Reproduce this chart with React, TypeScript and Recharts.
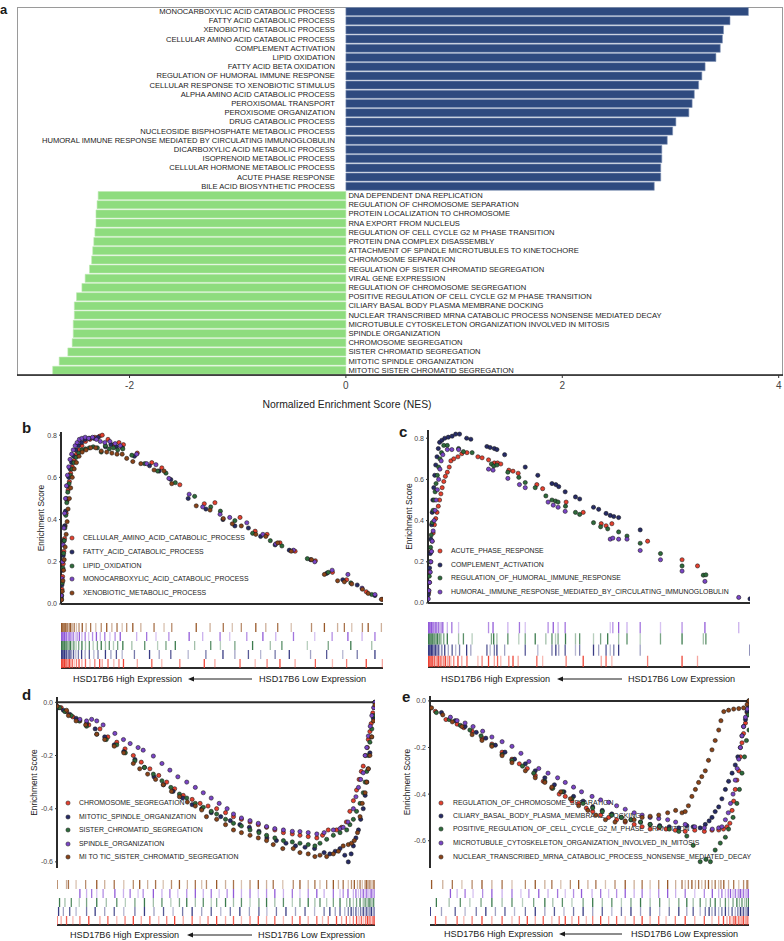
import React from "react";
import { BarChart, Bar, XAxis, YAxis, Cell, LabelList, ScatterChart, Scatter, ReferenceLine } from "recharts";

const FONT = '"Liberation Sans", Arial, Helvetica, sans-serif';

// ---- panel a data ----
const upTerms = [
  "MONOCARBOXYLIC ACID CATABOLIC PROCESS",
  "FATTY ACID CATABOLIC PROCESS",
  "XENOBIOTIC METABOLIC PROCESS",
  "CELLULAR AMINO ACID CATABOLIC PROCESS",
  "COMPLEMENT ACTIVATION",
  "LIPID OXIDATION",
  "FATTY ACID BETA OXIDATION",
  "REGULATION OF HUMORAL IMMUNE RESPONSE",
  "CELLULAR RESPONSE TO XENOBIOTIC STIMULUS",
  "ALPHA AMINO ACID CATABOLIC PROCESS",
  "PEROXISOMAL TRANSPORT",
  "PEROXISOME ORGANIZATION",
  "DRUG CATABOLIC PROCESS",
  "NUCLEOSIDE BISPHOSPHATE METABOLIC PROCESS",
  "HUMORAL IMMUNE RESPONSE MEDIATED BY CIRCULATING IMMUNOGLOBULIN",
  "DICARBOXYLIC ACID METABOLIC PROCESS",
  "ISOPRENOID METABOLIC PROCESS",
  "CELLULAR HORMONE METABOLIC PROCESS",
  "ACUTE PHASE RESPONSE",
  "BILE ACID BIOSYNTHETIC PROCESS",
];
const upNes = [3.72, 3.55, 3.49, 3.48, 3.46, 3.42, 3.32, 3.29, 3.26, 3.22, 3.2, 3.17, 3.05, 3.02, 2.97, 2.92, 2.92, 2.91, 2.91, 2.85];
const downTerms = [
  "DNA DEPENDENT DNA REPLICATION",
  "REGULATION OF CHROMOSOME SEPARATION",
  "PROTEIN LOCALIZATION TO CHROMOSOME",
  "RNA EXPORT FROM NUCLEUS",
  "REGULATION OF CELL CYCLE G2 M PHASE TRANSITION",
  "PROTEIN DNA COMPLEX DISASSEMBLY",
  "ATTACHMENT OF SPINDLE MICROTUBULES TO KINETOCHORE",
  "CHROMOSOME SEPARATION",
  "REGULATION OF SISTER CHROMATID SEGREGATION",
  "VIRAL GENE EXPRESSION",
  "REGULATION OF CHROMOSOME SEGREGATION",
  "POSITIVE REGULATION OF CELL CYCLE G2 M PHASE TRANSITION",
  "CILIARY BASAL BODY PLASMA MEMBRANE DOCKING",
  "NUCLEAR TRANSCRIBED MRNA CATABOLIC PROCESS NONSENSE MEDIATED DECAY",
  "MICROTUBULE CYTOSKELETON ORGANIZATION INVOLVED IN MITOSIS",
  "SPINDLE ORGANIZATION",
  "CHROMOSOME SEGREGATION",
  "SISTER CHROMATID SEGREGATION",
  "MITOTIC SPINDLE ORGANIZATION",
  "MITOTIC SISTER CHROMATID SEGREGATION",
];
const downNes = [-2.29, -2.3, -2.31, -2.31, -2.32, -2.33, -2.34, -2.35, -2.37, -2.41, -2.44, -2.49, -2.51, -2.51, -2.52, -2.52, -2.53, -2.57, -2.65, -2.71];
const nesTicks = [-2, 0, 2, 4];

// ---- GSEA panels: [rank %, enrichment score] at each hit ----
const bNames = [
  "CELLULAR_AMINO_ACID_CATABOLIC_PROCESS",
  "FATTY_ACID_CATABOLIC_PROCESS",
  "LIPID_OXIDATION",
  "MONOCARBOXYLIC_ACID_CATABOLIC_PROCESS",
  "XENOBIOTIC_METABOLIC_PROCESS",
];
const bRed = [[0.1,0.02],[0.3,0.07],[0.5,0.13],[0.7,0.19],[0.9,0.25],[1.1,0.31],[1.3,0.37],[1.6,0.43],[1.9,0.49],[2.2,0.54],[2.6,0.58],[3.0,0.62],[3.5,0.65],[4.1,0.68],[4.8,0.71],[5.6,0.73],[6.5,0.75],[7.6,0.77],[9.0,0.78],[10.5,0.79],[12.0,0.795],[12.8,0.8],[14.6,0.78],[16.4,0.755],[18,0.765],[19.4,0.755],[23.7,0.715],[28.2,0.67],[31.3,0.645],[36.9,0.565],[44.5,0.475],[47.8,0.48],[55.6,0.41],[60.3,0.345],[64,0.33],[68,0.29],[72.7,0.25],[79,0.205],[84.3,0.15],[88.7,0.115],[94.8,0.058],[99.8,0.022]];
const bNavy = [[0.1,0.03],[0.3,0.09],[0.5,0.16],[0.7,0.23],[0.9,0.3],[1.1,0.37],[1.4,0.44],[1.7,0.5],[2.0,0.56],[2.4,0.6],[2.8,0.64],[3.3,0.67],[3.9,0.7],[4.6,0.73],[5.4,0.75],[6.4,0.765],[7.5,0.78],[8.8,0.785],[10.2,0.785],[11.5,0.79],[13.8,0.745],[15.5,0.755],[17.2,0.745],[19,0.74],[22.8,0.7],[27.5,0.655],[30.5,0.63],[34.1,0.59],[39.5,0.5],[45,0.45],[50.3,0.4],[54,0.37],[58.2,0.36],[62,0.32],[66.5,0.28],[70.9,0.255],[77.5,0.21],[82.5,0.145],[87.5,0.115],[92,0.09],[97.5,0.04]];
const bGreen = [[0.2,0.04],[0.4,0.1],[0.6,0.17],[0.8,0.24],[1.0,0.3],[1.2,0.36],[1.5,0.42],[1.8,0.48],[2.1,0.53],[2.5,0.57],[2.9,0.61],[3.4,0.64],[4.0,0.67],[4.7,0.695],[5.5,0.715],[6.5,0.73],[7.6,0.735],[8.8,0.74],[10,0.745],[11.3,0.74],[12.5,0.72],[13.8,0.75],[15,0.735],[16.3,0.74],[17.6,0.73],[19.2,0.735],[22,0.705],[26,0.665],[30,0.63],[32.6,0.62],[35.5,0.575],[41.5,0.51],[46.5,0.46],[49.5,0.44],[54,0.395],[59.5,0.335],[65,0.3],[68.6,0.275],[76.5,0.215],[83,0.15],[90,0.1],[96.5,0.045]];
const bPurple = [[0.1,0.04],[0.3,0.12],[0.5,0.2],[0.7,0.28],[0.9,0.36],[1.1,0.43],[1.4,0.5],[1.7,0.56],[2.0,0.61],[2.4,0.65],[2.8,0.685],[3.3,0.71],[3.8,0.73],[4.4,0.75],[5.0,0.765],[5.7,0.78],[6.5,0.785],[7.5,0.79],[8.6,0.785],[9.8,0.79],[11,0.78],[12.2,0.77],[13.6,0.765],[15.2,0.77],[16.8,0.76],[18.4,0.75],[23.5,0.71],[26.6,0.665],[29.5,0.66],[33.5,0.595],[39.8,0.52],[44,0.46],[49.4,0.425],[52.4,0.41],[57.7,0.385],[62.7,0.33],[66.7,0.285],[72.2,0.255],[78.8,0.2],[84.2,0.16],[89.1,0.14],[93.5,0.075],[97.5,0.045]];
const bBrown = [[0.2,0.02],[0.4,0.06],[0.6,0.11],[0.8,0.16],[1.0,0.21],[1.3,0.27],[1.6,0.33],[1.9,0.39],[2.2,0.45],[2.6,0.5],[3.0,0.55],[3.5,0.6],[4.1,0.64],[4.8,0.67],[5.6,0.7],[6.6,0.72],[7.8,0.73],[9.2,0.74],[10.8,0.74],[12.5,0.725],[14.2,0.72],[15.8,0.715],[17.4,0.71],[19,0.71],[20.4,0.69],[22.3,0.675],[24.8,0.665],[28.9,0.635],[32,0.63],[34.4,0.57],[42,0.465],[46.3,0.445],[50.4,0.405],[53.2,0.38],[56,0.37],[60.5,0.33],[63.6,0.32],[67.3,0.29],[71.5,0.25],[77.8,0.21],[81.8,0.14],[85.9,0.11],[88,0.105],[90.3,0.095],[93.6,0.07],[95.4,0.05],[99.5,0.022]];

const cNames = [
  "ACUTE_PHASE_RESPONSE",
  "COMPLEMENT_ACTIVATION",
  "REGULATION_OF_HUMORAL_IMMUNE_RESPONSE",
  "HUMORAL_IMMUNE_RESPONSE_MEDIATED_BY_CIRCULATING_IMMUNOGLOBULIN",
];
const cRed = [[0.2,0.05],[0.4,0.1],[0.6,0.15],[0.8,0.2],[1.0,0.25],[1.3,0.3],[1.6,0.34],[2.0,0.38],[2.4,0.41],[2.8,0.44],[3.2,0.47],[3.6,0.5],[4.0,0.53],[4.4,0.56],[4.9,0.59],[5.4,0.615],[6.0,0.635],[6.6,0.66],[7.1,0.69],[8,0.7],[9.3,0.71],[10.5,0.725],[12.1,0.73],[15.5,0.71],[16.8,0.705],[18.8,0.695],[20.6,0.68],[21.6,0.68],[22.6,0.675],[25.1,0.645],[26.4,0.64],[28,0.63],[33.8,0.575],[35.6,0.555],[42.9,0.49],[48.2,0.44],[53.8,0.385],[55.3,0.375],[57.1,0.385],[68.2,0.3],[78.9,0.21],[83.7,0.18]];
const cNavy = [[0.1,0.04],[0.3,0.1],[0.5,0.17],[0.7,0.24],[0.9,0.31],[1.1,0.38],[1.3,0.44],[1.5,0.5],[1.8,0.56],[2.1,0.62],[2.4,0.67],[2.8,0.71],[3.2,0.75],[3.6,0.78],[4.3,0.79],[5.2,0.8],[6.3,0.805],[7.5,0.81],[8.6,0.82],[9.8,0.82],[12.0,0.8],[13.3,0.795],[18.3,0.76],[19.3,0.755],[20.6,0.75],[21.4,0.745],[23.8,0.72],[30.2,0.66],[34.1,0.62],[38.5,0.58],[39.7,0.575],[40.6,0.565],[42.6,0.54],[45.8,0.515],[47.1,0.505],[51.4,0.465],[53,0.455],[55.3,0.435],[56.6,0.425],[57.7,0.42],[59.2,0.415],[65.9,0.355],[100,0.02]];
const cGreen = [[0.2,0.06],[0.4,0.13],[0.6,0.2],[0.8,0.27],[1.0,0.33],[1.3,0.39],[1.6,0.45],[1.9,0.5],[2.2,0.54],[2.5,0.58],[2.9,0.62],[3.3,0.66],[3.7,0.7],[4.2,0.73],[4.9,0.765],[6.0,0.765],[9.5,0.75],[11,0.735],[13.7,0.73],[19.7,0.675],[20.4,0.665],[21.4,0.67],[24.8,0.635],[28.2,0.61],[30.2,0.585],[33.3,0.56],[36.6,0.52],[38.5,0.5],[39.6,0.495],[40.4,0.49],[42.7,0.47],[45.8,0.44],[47.1,0.43],[51.4,0.39],[53.6,0.37],[55.8,0.36],[59.2,0.345],[61.8,0.325],[65.9,0.29],[72.2,0.24],[78.9,0.18],[85.5,0.135],[86.3,0.137]];
const cPurple = [[0.1,0.02],[0.3,0.06],[0.5,0.1],[0.7,0.15],[0.9,0.2],[1.1,0.25],[1.3,0.3],[1.6,0.35],[1.9,0.4],[2.2,0.45],[2.5,0.5],[2.9,0.55],[3.3,0.6],[3.7,0.65],[4.1,0.69],[4.6,0.72],[6.0,0.745],[7.4,0.745],[9.5,0.745],[18.8,0.65],[20.2,0.645],[24.8,0.605],[28.4,0.575],[30.2,0.56],[37.3,0.49],[38.9,0.475],[40.4,0.465],[42.6,0.445],[56.6,0.31],[57.4,0.315],[59.2,0.31],[61.8,0.31],[65.9,0.255],[72.2,0.21],[78.9,0.155],[86,0.105],[96.5,0.027]];

const dNames = [
  "CHROMOSOME_SEGREGATION",
  "MITOTIC_SPINDLE_ORGANIZATION",
  "SISTER_CHROMATID_SEGREGATION",
  "SPINDLE_ORGANIZATION",
  "MI TO TIC_SISTER_CHROMATID_SEGREGATION",
];
const dRed = [[0,-0.015],[1.3,-0.02],[3,-0.035],[5,-0.055],[7.2,-0.07],[10,-0.085],[13.5,-0.1],[16,-0.13],[18.8,-0.15],[21.4,-0.175],[24,-0.2],[26.5,-0.225],[29.2,-0.25],[32,-0.275],[34.5,-0.3],[37,-0.325],[39.7,-0.35],[42.5,-0.365],[45,-0.38],[47.5,-0.39],[50.2,-0.4],[53,-0.415],[55.5,-0.43],[58,-0.44],[60.7,-0.45],[63.3,-0.46],[65.9,-0.47],[68.5,-0.48],[71.2,-0.49],[74,-0.495],[76.4,-0.5],[79,-0.505],[81.7,-0.51],[83.5,-0.5],[85.3,-0.48],[87.9,-0.48],[89.5,-0.47],[91,-0.45],[92.1,-0.41],[93.2,-0.37],[94.2,-0.33],[95,-0.29],[95.7,-0.26],[96.3,-0.24],[97,-0.2],[97.6,-0.17],[97.9,-0.14],[98.4,-0.11],[98.8,-0.08],[99.3,-0.04],[99.7,-0.02],[100,0]];
const dNavy = [[0.5,-0.02],[2,-0.03],[4,-0.045],[6,-0.06],[9.3,-0.08],[12,-0.1],[15,-0.13],[18,-0.16],[21,-0.185],[24.5,-0.215],[27.5,-0.245],[30.5,-0.28],[33.5,-0.31],[36.5,-0.335],[39.5,-0.36],[42.5,-0.385],[45.5,-0.4],[48.5,-0.415],[51.5,-0.43],[54.5,-0.445],[57.5,-0.46],[60.5,-0.47],[63.5,-0.485],[66,-0.51],[69,-0.52],[72,-0.53],[75,-0.54],[78,-0.545],[81,-0.55],[84,-0.565],[85.8,-0.57],[87.5,-0.56],[89,-0.55],[90.5,-0.575],[91.6,-0.6],[92.5,-0.57],[93.2,-0.54],[94,-0.51],[94.8,-0.48],[95.5,-0.44],[96.3,-0.4],[96.9,-0.35],[97.4,-0.3],[97.9,-0.25],[98.4,-0.19],[98.9,-0.13],[99.5,-0.06],[100,0]];
const dGreen = [[0.8,-0.02],[2.5,-0.035],[4.5,-0.05],[7,-0.07],[9.3,-0.09],[12.5,-0.12],[15.5,-0.14],[18.8,-0.16],[21.5,-0.19],[24.5,-0.22],[27.5,-0.245],[30.3,-0.27],[33,-0.295],[35.8,-0.32],[38.5,-0.345],[40.8,-0.36],[43.5,-0.38],[46,-0.395],[48.5,-0.41],[50.2,-0.42],[53,-0.44],[55.5,-0.455],[58,-0.465],[60.7,-0.48],[63.5,-0.49],[65.9,-0.5],[68.5,-0.51],[71.2,-0.52],[74,-0.525],[76.4,-0.53],[79,-0.535],[81.1,-0.54],[82.7,-0.53],[84.8,-0.515],[86.9,-0.5],[89,-0.49],[91.1,-0.48],[92.1,-0.46],[93.2,-0.44],[94.2,-0.41],[95.3,-0.38],[96.3,-0.34],[96.9,-0.3],[97.4,-0.26],[97.9,-0.2],[98.4,-0.15],[99,-0.1],[99.5,-0.05],[100,0]];
const dPurple = [[7.2,-0.064],[9.3,-0.07],[10.9,-0.064],[12.5,-0.07],[14.5,-0.085],[18.2,-0.117],[20.9,-0.14],[23,-0.155],[25.5,-0.17],[27.1,-0.18],[30.3,-0.202],[33,-0.23],[35.5,-0.255],[38,-0.28],[40.8,-0.3],[43.5,-0.32],[46,-0.34],[48.5,-0.36],[51,-0.38],[53.5,-0.4],[55.5,-0.42],[58,-0.435],[60.7,-0.445],[63.3,-0.455],[65.9,-0.467],[68.5,-0.475],[71.2,-0.48],[74,-0.485],[76.4,-0.486],[79,-0.49],[81.7,-0.495],[84,-0.49],[86.9,-0.48],[89,-0.475],[90,-0.47],[91.5,-0.45],[93.2,-0.4],[94,-0.355],[94.8,-0.32],[95.5,-0.29],[96.3,-0.265],[96.9,-0.2],[97.4,-0.17],[97.9,-0.127],[98.5,-0.09],[99,-0.05],[99.6,-0.02],[100,0]];
const dBrown = [[0,-0.015],[3,-0.03],[3.6,-0.05],[6,-0.07],[9,-0.085],[12.5,-0.12],[15,-0.14],[18,-0.165],[21,-0.19],[24,-0.23],[26,-0.25],[28.5,-0.27],[31,-0.29],[33.4,-0.31],[36,-0.335],[38.5,-0.355],[41,-0.375],[43.5,-0.39],[45.5,-0.405],[47,-0.43],[50.2,-0.44],[53,-0.46],[55.5,-0.48],[58,-0.49],[60.7,-0.5],[63.3,-0.51],[65.9,-0.52],[68,-0.535],[71,-0.55],[74.3,-0.55],[76.4,-0.565],[79,-0.57],[81.1,-0.58],[82.7,-0.575],[84.8,-0.58],[86.9,-0.57],[88.5,-0.56],[90,-0.54],[91.6,-0.535],[92.6,-0.53],[93.5,-0.52],[94.5,-0.49],[95.3,-0.43],[96,-0.38],[96.9,-0.34],[97.4,-0.3],[97.9,-0.25],[98.4,-0.2],[99,-0.13],[99.5,-0.07],[100,-0.01]];

const eNames = [
  "REGULATION_OF_CHROMOSOME_SEPARATION",
  "CILIARY_BASAL_BODY_PLASMA_MEMBRANE_DOCKING",
  "POSITIVE_REGULATION_OF_CELL_CYCLE_G2_M_PHASE_TRANSITION",
  "MICROTUBULE_CYTOSKELETON_ORGANIZATION_INVOLVED_IN_MITOSIS",
  "NUCLEAR_TRANSCRIBED_MRNA_CATABOLIC_PROCESS_NONSENSE_MEDIATED_DECAY",
];
const eRed = [[1.7,-0.045],[5,-0.08],[8.5,-0.1],[10.6,-0.115],[13.2,-0.13],[16.3,-0.16],[19.4,-0.185],[22.6,-0.22],[25.7,-0.25],[28,-0.27],[30.5,-0.29],[33,-0.32],[35.5,-0.345],[38.2,-0.375],[40.5,-0.4],[42.4,-0.41],[44.5,-0.43],[46.6,-0.44],[49,-0.46],[51,-0.475],[53.5,-0.49],[56,-0.5],[58.5,-0.51],[61.2,-0.52],[64,-0.53],[66.5,-0.54],[69,-0.55],[71.7,-0.545],[74,-0.55],[76.9,-0.555],[80,-0.56],[83,-0.555],[86,-0.56],[88.4,-0.555],[90.5,-0.554],[92,-0.55],[93.1,-0.54],[94,-0.525],[94.7,-0.47],[95.2,-0.43],[95.7,-0.38],[96.2,-0.34],[96.8,-0.3],[97.3,-0.24],[97.8,-0.18],[98.3,-0.14],[98.9,-0.095],[99.4,-0.05],[99.8,-0.015]];
const eNavy = [[0.1,-0.03],[3.6,-0.05],[7.9,-0.085],[11,-0.11],[14.5,-0.135],[17.5,-0.16],[20.5,-0.19],[23.5,-0.22],[26.5,-0.25],[29.9,-0.27],[33,-0.3],[36,-0.33],[39,-0.36],[42,-0.39],[45,-0.41],[48,-0.43],[51,-0.455],[54,-0.47],[57,-0.485],[60,-0.5],[63,-0.51],[66,-0.52],[69,-0.53],[72,-0.535],[75,-0.54],[78,-0.545],[80.5,-0.535],[82.5,-0.54],[84.7,-0.545],[86.3,-0.53],[87.5,-0.515],[88.4,-0.5],[89.4,-0.475],[90.5,-0.455],[91.5,-0.42],[92.6,-0.38],[93.6,-0.345],[94.7,-0.31],[95.7,-0.275],[96.5,-0.24],[97.3,-0.2],[97.8,-0.15],[98.3,-0.11],[98.9,-0.08],[99.4,-0.045],[99.8,-0.02],[100,0]];
const eGreen = [[2,-0.05],[6,-0.08],[9.5,-0.105],[12.5,-0.125],[16,-0.15],[19.4,-0.19],[22.6,-0.23],[25.7,-0.255],[29,-0.28],[32.5,-0.31],[36,-0.345],[38.5,-0.375],[41.5,-0.39],[44.5,-0.42],[48,-0.44],[51,-0.46],[54,-0.475],[57,-0.49],[60,-0.5],[63,-0.51],[66,-0.52],[69,-0.53],[72,-0.54],[75,-0.55],[78,-0.56],[80.5,-0.58],[82.5,-0.62],[84.7,-0.69],[86.5,-0.68],[87.9,-0.69],[89.4,-0.64],[91,-0.61],[92.6,-0.585],[93.6,-0.55],[95,-0.5],[96.2,-0.44],[97,-0.38],[97.8,-0.31],[98.6,-0.24],[99.2,-0.17],[100,-0.125],[99.8,-0.06],[100,0]];
const ePurple = [[6.4,-0.07],[8.5,-0.085],[11,-0.095],[13.5,-0.11],[16.5,-0.13],[19.4,-0.155],[22.6,-0.175],[25.7,-0.195],[28.5,-0.225],[31,-0.26],[34.1,-0.29],[37,-0.31],[40,-0.33],[42.4,-0.35],[45,-0.37],[47.5,-0.39],[50.8,-0.41],[53.5,-0.425],[56,-0.435],[58.5,-0.45],[61.2,-0.465],[64,-0.48],[66.5,-0.49],[69,-0.5],[71.7,-0.505],[74.5,-0.51],[77,-0.52],[80,-0.53],[83,-0.54],[86,-0.545],[88.5,-0.55],[90.5,-0.545],[91.5,-0.54],[92.6,-0.51],[93.5,-0.48],[94.2,-0.44],[95,-0.4],[95.7,-0.34],[96.3,-0.29],[96.8,-0.25],[97.3,-0.2],[97.8,-0.15],[98.3,-0.11],[98.9,-0.07],[99.4,-0.035],[99.9,-0.01]];
const eBrown = [[0.5,-0.03],[4,-0.06],[7,-0.09],[10,-0.11],[13.2,-0.145],[16.3,-0.17],[19.4,-0.195],[22.6,-0.235],[25.7,-0.265],[29.9,-0.3],[33,-0.33],[36,-0.35],[38.2,-0.37],[41,-0.39],[44,-0.42],[46.6,-0.45],[49.5,-0.47],[52,-0.49],[55,-0.51],[58,-0.52],[61.2,-0.515],[64,-0.51],[66.5,-0.5],[69,-0.495],[71.7,-0.49],[74.5,-0.48],[77,-0.47],[79,-0.48],[80,-0.475],[81,-0.45],[82.1,-0.41],[83.2,-0.38],[84.2,-0.35],[85.2,-0.325],[86.3,-0.3],[87.3,-0.255],[88.4,-0.21],[89.4,-0.17],[90.5,-0.125],[91.2,-0.085],[92.1,-0.046],[93.6,-0.04],[95.2,-0.035],[96.8,-0.033],[98.3,-0.03],[99.4,-0.015],[100,0]];

const dotColors = ["#E5402E", "#262B66", "#2D6B3A", "#7A45C6", "#8A4318"];
const rugColors = ["#EC3B2C", "#2E317D", "#327443", "#8C52D6", "#93501F"];
const rugAlpha = [0.95, 0.45, 0.8, 0.35, 0.65];
const BLUE = "#2E4A7F";
const GREEN = "#8EDC7E";

const barData = [
  ...upTerms.map((term, i) => ({ term, nes: upNes[i] })),
  ...downTerms.map((term, i) => ({ term, nes: downNes[i] })),
];

const toPts = (arr: number[][]) => arr.map(([x, y]) => ({ x, y }));

function TermLabel(props: any) {
  const vb = props.viewBox ?? props;
  const x = Number(vb.x ?? props.x);
  const w = Number(vb.width ?? props.width);
  const y = Number(vb.y ?? props.y);
  const h = Number(vb.height ?? props.height);
  const row = barData[props.index];
  const positive = row ? row.nes >= 0 : w >= 0;
  const zero = positive ? Math.min(x, x + w) : Math.max(x, x + w);
  return (
    <text
      x={positive ? zero - 11 : zero + 2.5}
      y={y + h / 2}
      textAnchor={positive ? "end" : "start"}
      dominantBaseline="central"
      fontSize={7.6}
      fontFamily={FONT}
      fill="#1a1a1a"
    >
      {row ? row.term : props.value}
    </text>
  );
}

const dotShape = (fill: string) => (p: any) => (
  <circle cx={p.cx} cy={p.cy} r={2.1} fill={fill} stroke="#161616" strokeWidth={0.55} />
);
const rugShape = (stroke: string, h: number) => (p: any) => (
  <line
    x1={p.cx}
    x2={p.cx}
    y1={p.cy - h / 2}
    y2={p.cy + h / 2}
    stroke={stroke}
    strokeWidth={1.3}
    strokeOpacity={rugAlpha[(p.index ?? 0) % rugAlpha.length]}
  />
);

function Caption({ y, hiX, a1, a2, loX }: { y: number; hiX: number; a1: number; a2: number; loX: number }) {
  const txt = { position: "absolute" as const, top: y - 6, fontSize: 9.1, lineHeight: "12px", color: "#1a1a1a", whiteSpace: "nowrap" as const };
  return (
    <>
      <div style={{ ...txt, left: hiX }}>HSD17B6 High Expression</div>
      <svg style={{ position: "absolute", left: a1, top: y - 4 }} width={a2 - a1} height={8}>
        <line x1={4} x2={a2 - a1} y1={4} y2={4} stroke="#1a1a1a" strokeWidth={1} />
        <polygon points="0,4 6,1.5 6,6.5" fill="#1a1a1a" />
      </svg>
      <div style={{ ...txt, left: loX }}>HSD17B6 Low Expression</div>
    </>
  );
}

type Spec = {
  letter: string; letterX: number; letterY: number;
  left: number; top: number; esH: number;
  mL: number; mR: number; mT: number; mB: number; labelOffset: number;
  yDomain: number[]; yTicks: number[]; zeroTop: boolean;
  names: string[]; series: number[][][];
  legDot: number; legText: number; legY: number[];
  rugTop: number; rugH: number;
  cap: { y: number; hiX: number; a1: number; a2: number; loX: number };
};

function GseaPanel({ s }: { s: Spec }) {
  const n = s.series.length;
  const rowH = s.rugH / n;
  return (
    <>
      <div style={{ position: "absolute", left: s.letterX, top: s.letterY, fontSize: 15, fontWeight: 700, lineHeight: "15px" }}>{s.letter}</div>
      {s.names.map((name, i) => (
        <React.Fragment key={name}>
          <svg style={{ position: "absolute", left: s.legDot - 3, top: s.legY[i] - 3 }} width={6} height={6}>
            <circle cx={3} cy={3} r={2.1} fill={dotColors[i]} stroke="#161616" strokeWidth={0.5} />
          </svg>
          <div style={{ position: "absolute", left: s.legText, top: s.legY[i] - 5, fontSize: 6.9, lineHeight: "10px", whiteSpace: "nowrap", color: "#222" }}>
            {name}
          </div>
        </React.Fragment>
      ))}
      <div style={{ position: "absolute", left: s.left, top: s.top }}>
        <ScatterChart width={392} height={s.esH} margin={{ top: s.mT, right: s.mR, bottom: s.mB, left: s.mL }}>
          <XAxis
            type="number"
            dataKey="x"
            domain={[0, 100]}
            allowDataOverflow
            height={1}
            tick={false}
            tickLine={false}
            axisLine={s.zeroTop ? false : { stroke: "#2b2b2b", strokeWidth: 2 }}
          />
          <YAxis
            type="number"
            dataKey="y"
            domain={s.yDomain}
            allowDataOverflow
            ticks={s.yTicks}
            width={30}
            tickSize={2}
            tickMargin={2}
            tickLine={{ stroke: "#333" }}
            axisLine={{ stroke: "#2b2b2b", strokeWidth: 2 }}
            tick={{ fontSize: 7, fill: "#444", fontFamily: FONT }}
            tickFormatter={(v: number) => v.toFixed(1)}
            label={{
              value: "Enrichment Score",
              angle: -90,
              position: "insideLeft",
              offset: s.labelOffset,
              style: { textAnchor: "middle", fontSize: 8.4, fill: "#222", fontFamily: FONT },
            }}
          />
          {s.zeroTop && <ReferenceLine y={0} stroke="#2b2b2b" strokeWidth={2} />}
          {s.series.map((ser, i) => (
            <Scatter key={i} data={toPts(ser)} isAnimationActive={false} shape={dotShape(dotColors[i])} />
          ))}
        </ScatterChart>
      </div>
      <div style={{ position: "absolute", left: s.left, top: s.rugTop - 2 }}>
        <ScatterChart width={392} height={s.rugH + 4} margin={{ top: 2, right: s.mR, bottom: 1, left: s.mL + 30 }}>
          <XAxis
            type="number"
            dataKey="x"
            domain={[0, 100]}
            allowDataOverflow
            height={1}
            tick={false}
            tickLine={false}
            axisLine={{ stroke: "#2b2b2b", strokeWidth: 2 }}
          />
          <YAxis type="number" dataKey="y" domain={[0, n]} allowDataOverflow hide />
          {s.series.map((ser, i) => (
            <Scatter
              key={i}
              data={ser.map(([x]) => ({ x, y: i + 0.5 }))}
              isAnimationActive={false}
              shape={rugShape(rugColors[i], rowH)}
            />
          ))}
        </ScatterChart>
      </div>
      <Caption {...s.cap} />
    </>
  );
}

const panels: Spec[] = [
  {
    letter: "b", letterX: 22, letterY: 420, left: 0, top: 420, esH: 190,
    mL: 31, mR: 9, mT: 12, mB: 5, labelOffset: 10,
    yDomain: [0, 0.815], yTicks: [0, 0.2, 0.4, 0.6, 0.8], zeroTop: false,
    names: bNames, series: [bRed, bNavy, bGreen, bPurple, bBrown],
    legDot: 72, legText: 83, legY: [538, 552, 566, 579, 593],
    rugTop: 623, rugH: 45,
    cap: { y: 679, hiX: 73, a1: 188, a2: 252, loX: 259 },
  },
  {
    letter: "c", letterX: 399, letterY: 424, left: 392, top: 420, esH: 190,
    mL: 6, mR: 34, mT: 10, mB: 6, labelOffset: 11,
    yDomain: [0, 0.84], yTicks: [0, 0.2, 0.4, 0.6, 0.8], zeroTop: false,
    names: cNames, series: [cRed, cNavy, cGreen, cPurple],
    legDot: 440, legText: 451, legY: [551, 565, 578, 592],
    rugTop: 622, rugH: 45,
    cap: { y: 679, hiX: 441, a1: 557, a2: 622, loX: 628 },
  },
  {
    letter: "d", letterX: 22, letterY: 687, left: 0, top: 690, esH: 185,
    mL: 27, mR: 17, mT: 7, mB: 6, labelOffset: 7,
    yDomain: [-0.623, 0.02], yTicks: [-0.6, -0.4, -0.2, 0], zeroTop: true,
    names: dNames, series: [dRed, dNavy, dGreen, dPurple, dBrown],
    legDot: 68, legText: 79, legY: [803, 817, 830, 844, 857],
    rugTop: 880, rugH: 45,
    cap: { y: 935, hiX: 70, a1: 187, a2: 252, loX: 258 },
  },
  {
    letter: "e", letterX: 402, letterY: 689, left: 392, top: 690, esH: 185,
    mL: 8, mR: 35, mT: 6, mB: 6, labelOffset: 7,
    yDomain: [-0.717, 0.021], yTicks: [-0.6, -0.4, -0.2, 0], zeroTop: true,
    names: eNames, series: [eRed, eNavy, eGreen, ePurple, eBrown],
    legDot: 441, legText: 453, legY: [803, 816, 829, 843, 857],
    rugTop: 880, rugH: 45,
    cap: { y: 934, hiX: 444, a1: 559, a2: 622, loX: 631 },
  },
];

export default function App() {
  return (
    <div
      style={{
        position: "absolute",
        left: 0,
        top: 0,
        width: 784,
        height: 941,
        overflow: "hidden",
        background: "#fff",
        fontFamily: FONT,
        color: "#1a1a1a",
      }}
    >
      <div style={{ position: "absolute", left: 0, top: 3, fontSize: 13, fontWeight: 700, lineHeight: "13px" }}>a</div>
      <div style={{ position: "absolute", left: 17, top: 7, width: 766, height: 369, border: "1px solid #9a9a9a", boxSizing: "border-box" }} />
      <div style={{ position: "absolute", left: 0, top: 0 }}>
        <BarChart
          layout="vertical"
          width={784}
          height={415}
          data={barData}
          margin={{ top: 7, right: 1, left: 17, bottom: 0 }}
          barCategoryGap={0.5}
        >
          <XAxis
            type="number"
            dataKey="nes"
            domain={[-3.04, 4.04]}
            allowDataOverflow
            ticks={nesTicks}
            height={40}
            tickSize={3}
            tickMargin={4}
            tickLine={{ stroke: "#333" }}
            axisLine={{ stroke: "#222", strokeWidth: 1.5 }}
            tick={{ fontSize: 10, fill: "#444", fontFamily: FONT }}
          />
          <YAxis type="category" dataKey="term" hide />
          <Bar dataKey="nes" isAnimationActive={false} strokeWidth={0.6}>
            {barData.map((d) => (
              <Cell key={d.term} fill={d.nes > 0 ? BLUE : GREEN} stroke={d.nes > 0 ? "#8193b6" : "#bdeab2"} />
            ))}
            <LabelList dataKey="term" content={TermLabel} />
          </Bar>
        </BarChart>
      </div>
      <div style={{ position: "absolute", left: 147, width: 400, top: 399, textAlign: "center", fontSize: 10.4, lineHeight: "12px", color: "#222" }}>
        Normalized Enrichment Score (NES)
      </div>
      {panels.map((p) => (
        <GseaPanel key={p.letter} s={p} />
      ))}
    </div>
  );
}
